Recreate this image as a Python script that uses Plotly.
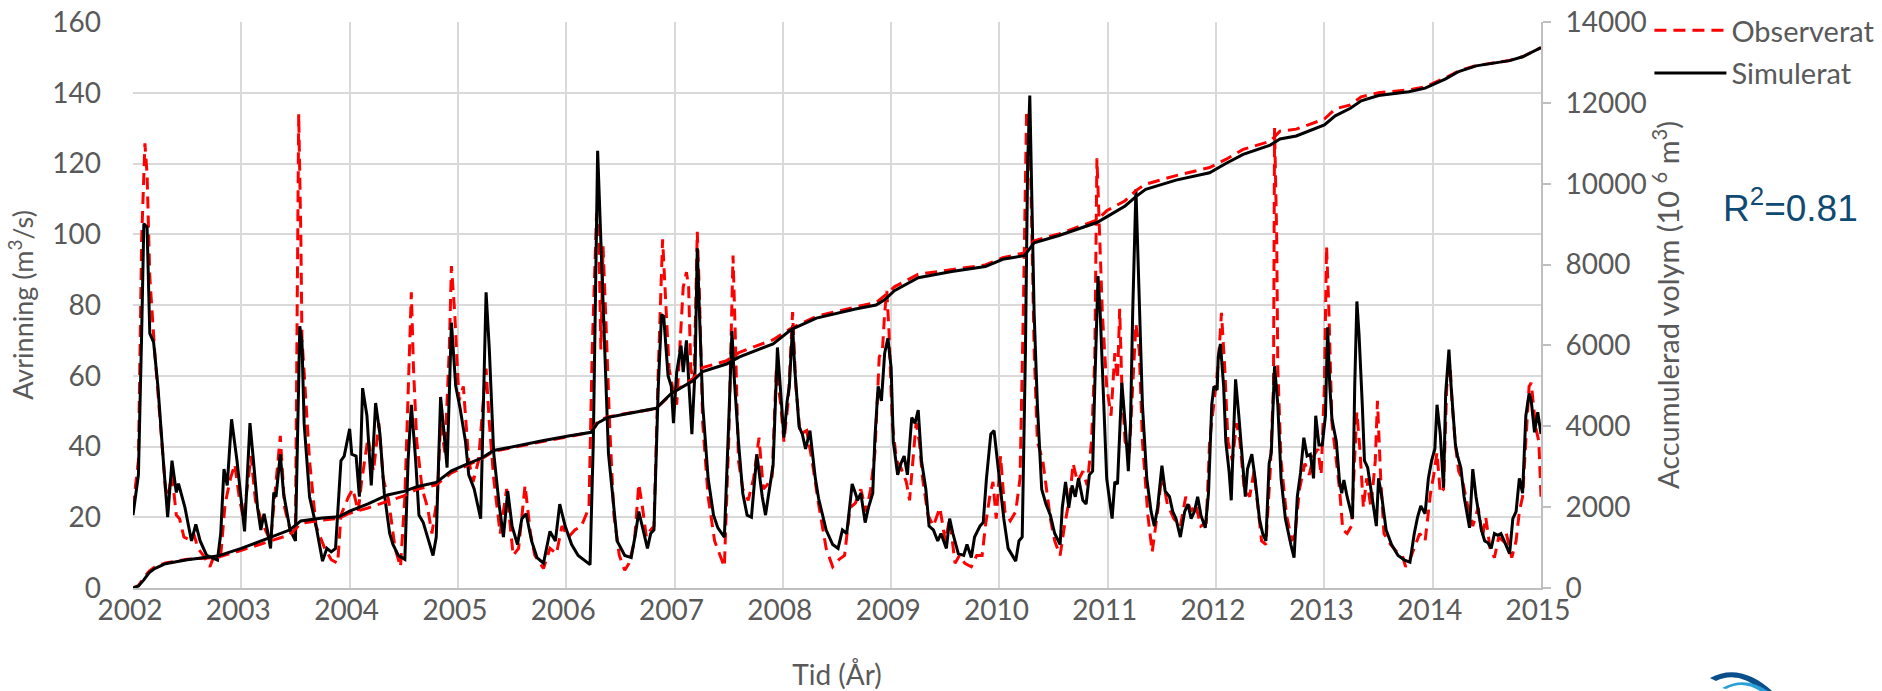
import plotly.graph_objects as go

# Simulated discharge (year, m3/s)
sim = [
    (2002.0, 20.6), (2002.05, 32), (2002.08, 72), (2002.10, 103), (2002.13, 102), (2002.155, 72),
    (2002.19, 69.5), (2002.23, 57), (2002.28, 36), (2002.32, 20), (2002.36, 36), (2002.40, 27),
    (2002.42, 29.5), (2002.48, 22.7), (2002.54, 13.3), (2002.58, 18), (2002.62, 13.3), (2002.68, 9.2),
    (2002.78, 7.9), (2002.81, 15.4), (2002.84, 33.6), (2002.87, 29), (2002.91, 47.7), (2002.96, 36),
    (2003.03, 16), (2003.08, 46.6), (2003.11, 36.7), (2003.15, 22.7), (2003.18, 16.4), (2003.21, 21),
    (2003.24, 16.4), (2003.27, 11.2), (2003.30, 27), (2003.32, 25.8), (2003.36, 37.8), (2003.39, 26.8),
    (2003.45, 16.4), (2003.50, 13.3), (2003.54, 74), (2003.56, 69.5), (2003.58, 46.6), (2003.63, 25.8),
    (2003.69, 17.5), (2003.75, 7.6), (2003.79, 11.2), (2003.83, 10.2), (2003.87, 11.2), (2003.92, 36),
    (2003.95, 37.3), (2004.0, 45), (2004.02, 37.8), (2004.06, 37.3), (2004.09, 25.8), (2004.12, 56.5),
    (2004.16, 48.7), (2004.20, 29), (2004.24, 52.3), (2004.28, 43.5), (2004.32, 26.8), (2004.37, 15.4),
    (2004.40, 12.3), (2004.45, 9.2), (2004.51, 8.1), (2004.54, 36), (2004.57, 51.8), (2004.61, 36),
    (2004.64, 20.6), (2004.68, 18.5), (2004.73, 13.3), (2004.77, 9.2), (2004.80, 14.4), (2004.84, 54),
    (2004.87, 44.5), (2004.90, 34), (2004.94, 75), (2004.98, 57), (2005.02, 50.8), (2005.07, 41.4),
    (2005.10, 32), (2005.15, 28), (2005.21, 19.6), (2005.26, 83.6), (2005.29, 67.4), (2005.33, 38.3),
    (2005.38, 23.7), (2005.42, 14.4), (2005.46, 27.4), (2005.50, 17.5), (2005.55, 12.3), (2005.59, 19.6),
    (2005.63, 21), (2005.68, 13.3), (2005.73, 8.6), (2005.79, 7), (2005.85, 16), (2005.90, 13.3),
    (2005.94, 23.7), (2005.99, 17.5), (2006.05, 12.3), (2006.11, 9.2), (2006.22, 6.6), (2006.25, 41.4),
    (2006.29, 123.6), (2006.32, 96.6), (2006.36, 65.3), (2006.39, 38), (2006.43, 25.8), (2006.47, 13.3),
    (2006.54, 9.2), (2006.60, 8.6), (2006.64, 15.4), (2006.67, 21.6), (2006.71, 16.4), (2006.75, 11.2),
    (2006.78, 15.4), (2006.81, 16.4), (2006.85, 57), (2006.88, 77.3), (2006.90, 76.8), (2006.94, 60),
    (2006.97, 57), (2006.99, 46.6), (2007.02, 61), (2007.06, 68.5), (2007.08, 61), (2007.11, 70),
    (2007.13, 59), (2007.16, 43.5), (2007.19, 62), (2007.21, 96), (2007.23, 77.8), (2007.26, 51.8),
    (2007.31, 31), (2007.36, 20.6), (2007.40, 17), (2007.46, 14.4), (2007.50, 46.6), (2007.53, 72.6),
    (2007.55, 60), (2007.59, 41.4), (2007.63, 26.8), (2007.67, 20.6), (2007.71, 20), (2007.76, 37.8),
    (2007.81, 25.8), (2007.84, 20.6), (2007.87, 26.8), (2007.91, 34.6), (2007.95, 68), (2007.98, 54),
    (2008.01, 42.5), (2008.04, 52.9), (2008.06, 57), (2008.09, 74.2), (2008.11, 62), (2008.15, 45.6),
    (2008.18, 43.5), (2008.21, 39.3), (2008.25, 44.5), (2008.30, 31), (2008.33, 25.3), (2008.40, 16.4),
    (2008.46, 12.3), (2008.51, 11.2), (2008.55, 16.4), (2008.59, 15.4), (2008.64, 29.4), (2008.67, 26.8),
    (2008.69, 24.8), (2008.72, 26.8), (2008.76, 18.5), (2008.79, 22.7), (2008.83, 26.8), (2008.85, 42.5),
    (2008.88, 57), (2008.91, 52.9), (2008.94, 66.4), (2008.97, 70.6), (2009.0, 62.2), (2009.02, 41.4),
    (2009.06, 32), (2009.09, 35.2), (2009.12, 37.3), (2009.15, 32), (2009.19, 48.2), (2009.22, 46.6),
    (2009.25, 50.3), (2009.28, 36), (2009.32, 28), (2009.35, 17.5), (2009.39, 16.4), (2009.43, 13.3),
    (2009.46, 15.4), (2009.51, 11.2), (2009.54, 19.6), (2009.57, 15.4), (2009.62, 9.7), (2009.67, 9.2),
    (2009.70, 12.3), (2009.74, 8.6), (2009.77, 14.4), (2009.82, 17.5), (2009.85, 18.5), (2009.88, 31),
    (2009.92, 43.5), (2009.95, 44.5), (2009.99, 34), (2010.04, 19.6), (2010.08, 11.2), (2010.15, 7.6),
    (2010.18, 13.3), (2010.21, 14.4), (2010.24, 67.4), (2010.26, 119.5), (2010.28, 139.2), (2010.30, 109),
    (2010.32, 77.8), (2010.35, 51.8), (2010.39, 27.9), (2010.43, 23.7), (2010.47, 20.6), (2010.51, 15.4),
    (2010.56, 12.3), (2010.58, 22.7), (2010.61, 30), (2010.64, 22.7), (2010.67, 29), (2010.70, 25.8),
    (2010.73, 31), (2010.77, 24.8), (2010.80, 23.7), (2010.83, 32), (2010.86, 33), (2010.88, 57),
    (2010.91, 88.2), (2010.93, 77.8), (2010.96, 51.8), (2010.99, 31), (2011.04, 19.6), (2011.065, 30),
    (2011.09, 29.4), (2011.13, 58), (2011.16, 46.6), (2011.19, 33), (2011.21, 46.6), (2011.23, 77.8),
    (2011.26, 112.7), (2011.29, 80), (2011.32, 51.8), (2011.36, 31), (2011.40, 21.6), (2011.43, 17.5),
    (2011.46, 22.7), (2011.50, 34.6), (2011.53, 27.4), (2011.57, 25.8), (2011.60, 21.6), (2011.63, 19.6),
    (2011.67, 14.4), (2011.71, 21.6), (2011.74, 23.7), (2011.77, 19.6), (2011.80, 21.6), (2011.83, 25.8),
    (2011.86, 20.6), (2011.90, 17), (2011.93, 26.8), (2011.96, 51.8), (2011.98, 57), (2012.01, 56),
    (2012.02, 65.3), (2012.04, 69), (2012.07, 57), (2012.09, 41.4), (2012.12, 33), (2012.14, 24.8),
    (2012.18, 59), (2012.21, 48.7), (2012.24, 36), (2012.27, 25.8), (2012.29, 33.6), (2012.33, 37.8),
    (2012.36, 31), (2012.40, 19.6), (2012.43, 15.4), (2012.46, 13.3), (2012.49, 35.2), (2012.51, 38.3),
    (2012.54, 62.7), (2012.57, 51.8), (2012.60, 31), (2012.64, 19.6), (2012.69, 12.3), (2012.72, 8.6),
    (2012.75, 25.8), (2012.78, 32.6), (2012.81, 42.5), (2012.84, 37.3), (2012.87, 37.8), (2012.90, 31),
    (2012.92, 48.7), (2012.95, 40.4), (2012.98, 40.4), (2013.01, 48.7), (2013.03, 73.7), (2013.05, 57),
    (2013.07, 47.7), (2013.11, 41.4), (2013.14, 30), (2013.16, 26.8), (2013.18, 30.5), (2013.21, 25.8),
    (2013.26, 19.6), (2013.28, 57), (2013.30, 81), (2013.32, 71.6), (2013.35, 51.8), (2013.37, 36),
    (2013.40, 34), (2013.44, 25.8), (2013.48, 17.5), (2013.50, 31), (2013.53, 25.8), (2013.57, 16.4),
    (2013.62, 12.3), (2013.68, 9.2), (2013.74, 7.9), (2013.79, 7.3), (2013.83, 15.4), (2013.86, 20),
    (2013.89, 23.2), (2013.93, 21), (2013.96, 31), (2013.99, 36), (2014.02, 39.3), (2014.04, 51.8),
    (2014.07, 43.5), (2014.10, 28.4), (2014.12, 55), (2014.15, 67.4), (2014.17, 57), (2014.21, 40.4),
    (2014.23, 37.3), (2014.26, 34), (2014.29, 25.8), (2014.34, 17), (2014.37, 33.6), (2014.40, 25.8),
    (2014.45, 16.4), (2014.48, 13.3), (2014.51, 12.8), (2014.54, 11.2), (2014.57, 15.4), (2014.60, 14.9),
    (2014.63, 15.4), (2014.66, 13.3), (2014.71, 9.7), (2014.74, 19.6), (2014.77, 21.6), (2014.80, 31),
    (2014.83, 26.8), (2014.86, 48.7), (2014.89, 55), (2014.91, 52.9), (2014.94, 44), (2014.97, 49.7),
    (2015.0, 43.5),
]

# Observed discharge (year, m3/s)
obs = [
    (2002.0, 22.7), (2002.05, 36), (2002.08, 98.6), (2002.11, 125.7), (2002.13, 117), (2002.155, 88),
    (2002.2, 67), (2002.25, 46.6), (2002.30, 28), (2002.32, 25.8), (2002.36, 32), (2002.40, 20.6),
    (2002.43, 19.6), (2002.47, 14.4), (2002.51, 13.8), (2002.56, 15.4), (2002.60, 11.2), (2002.65, 9.2),
    (2002.71, 6), (2002.75, 9.2), (2002.81, 9.2), (2002.85, 23.7), (2002.90, 31), (2002.94, 35),
    (2002.98, 25.8), (2003.02, 19.6), (2003.09, 37.3), (2003.13, 24.8), (2003.19, 18.5), (2003.27, 13.3),
    (2003.32, 30), (2003.36, 43), (2003.40, 22.7), (2003.46, 15.4), (2003.50, 17.5), (2003.53, 134),
    (2003.55, 98.6), (2003.56, 70.5), (2003.58, 61), (2003.63, 36), (2003.69, 17.5), (2003.77, 11.2),
    (2003.83, 8), (2003.89, 7), (2003.92, 20.6), (2003.99, 25.8), (2004.03, 28), (2004.08, 21.6),
    (2004.11, 30), (2004.17, 42.5), (2004.22, 33), (2004.27, 46.6), (2004.31, 31), (2004.36, 24.8),
    (2004.42, 11.2), (2004.47, 6), (2004.51, 25.8), (2004.55, 67.4), (2004.57, 83.6), (2004.59, 62),
    (2004.62, 41.4), (2004.67, 28), (2004.72, 22.7), (2004.76, 15.4), (2004.81, 25.8), (2004.84, 46.6),
    (2004.88, 38.3), (2004.92, 67.4), (2004.94, 91), (2004.97, 78), (2005.01, 53), (2005.05, 57),
    (2005.10, 36), (2005.14, 30), (2005.19, 36), (2005.24, 55), (2005.26, 62), (2005.29, 46.6),
    (2005.33, 31), (2005.39, 15.4), (2005.45, 28), (2005.51, 9.2), (2005.56, 11.2), (2005.62, 29),
    (2005.67, 15.4), (2005.71, 9.2), (2005.79, 5.5), (2005.85, 11.2), (2005.91, 9.7), (2005.96, 17.5),
    (2006.02, 14.4), (2006.08, 16.4), (2006.14, 17.5), (2006.21, 22.7), (2006.24, 67.4), (2006.28, 106),
    (2006.30, 100.7), (2006.32, 67.4), (2006.34, 96.6), (2006.37, 72.6), (2006.40, 46.6), (2006.44, 20.6),
    (2006.49, 9.2), (2006.54, 5), (2006.58, 7), (2006.63, 13.3), (2006.67, 29.4), (2006.70, 23.7),
    (2006.74, 14.4), (2006.78, 16.4), (2006.81, 17.5), (2006.85, 62), (2006.89, 98.6), (2006.92, 80),
    (2006.95, 62), (2006.98, 57), (2007.02, 51.8), (2007.05, 68.5), (2007.08, 85), (2007.11, 89.3),
    (2007.13, 85), (2007.15, 62), (2007.18, 58), (2007.21, 100.7), (2007.23, 83), (2007.26, 46.6),
    (2007.31, 25.8), (2007.37, 13.3), (2007.42, 9.2), (2007.46, 6), (2007.50, 41.4), (2007.54, 94),
    (2007.56, 72.6), (2007.59, 36), (2007.63, 28), (2007.68, 24.8), (2007.73, 31), (2007.78, 42.5),
    (2007.82, 28), (2007.85, 29), (2007.90, 31), (2007.94, 62), (2007.98, 51.8), (2008.01, 41.4),
    (2008.05, 52.9), (2008.09, 78), (2008.12, 57), (2008.16, 43.5), (2008.22, 44.5), (2008.27, 36),
    (2008.33, 23.7), (2008.40, 11.2), (2008.46, 6), (2008.52, 8.1), (2008.57, 9.2), (2008.62, 22.7),
    (2008.67, 24), (2008.72, 27.9), (2008.77, 21.6), (2008.81, 27.9), (2008.85, 38.3), (2008.89, 65.3),
    (2008.92, 67.4), (2008.94, 77.8), (2008.96, 84), (2008.98, 72.6), (2009.01, 46.6), (2009.05, 36),
    (2009.09, 34), (2009.14, 30), (2009.17, 24.8), (2009.20, 36), (2009.23, 46.6), (2009.26, 41.4),
    (2009.29, 31), (2009.34, 20.6), (2009.39, 17.5), (2009.45, 22.7), (2009.50, 13.3), (2009.54, 19.6),
    (2009.59, 7), (2009.63, 9.2), (2009.68, 7), (2009.74, 6), (2009.79, 9.2), (2009.84, 9.2),
    (2009.87, 17.5), (2009.91, 25.8), (2009.94, 30), (2009.97, 19.6), (2010.01, 37.3), (2010.05, 21.6),
    (2010.10, 19), (2010.15, 21.6), (2010.19, 31), (2010.22, 77.8), (2010.25, 134), (2010.28, 130),
    (2010.30, 98.6), (2010.32, 67.4), (2010.35, 41.4), (2010.40, 36), (2010.43, 29), (2010.47, 19.6),
    (2010.51, 13.3), (2010.56, 9.2), (2010.60, 17.5), (2010.65, 25.8), (2010.68, 35.2), (2010.72, 30),
    (2010.77, 33), (2010.81, 29), (2010.85, 41.4), (2010.88, 65), (2010.90, 121.5), (2010.92, 104),
    (2010.95, 77.8), (2010.99, 57), (2011.03, 48.7), (2011.065, 66.4), (2011.09, 59), (2011.11, 78.9),
    (2011.13, 57), (2011.16, 41.4), (2011.20, 38.3), (2011.23, 57), (2011.26, 74.7), (2011.29, 67.4),
    (2011.32, 41.4), (2011.37, 20.6), (2011.41, 10.2), (2011.46, 21.6), (2011.50, 32), (2011.55, 23.7),
    (2011.61, 19.6), (2011.67, 17.5), (2011.72, 25.8), (2011.77, 21.6), (2011.81, 23.7), (2011.86, 17.5),
    (2011.91, 18.5), (2011.94, 41.4), (2011.98, 51.8), (2012.02, 63.3), (2012.05, 77.8), (2012.08, 62.2),
    (2012.11, 41.4), (2012.15, 36), (2012.19, 46.6), (2012.22, 41.4), (2012.26, 27.9), (2012.31, 25.8),
    (2012.35, 33), (2012.39, 20.6), (2012.42, 13.3), (2012.46, 12.3), (2012.50, 33), (2012.53, 57),
    (2012.54, 130), (2012.56, 98.6), (2012.57, 62.2), (2012.60, 36), (2012.65, 20.6), (2012.70, 13.3),
    (2012.73, 15.4), (2012.77, 27.9), (2012.82, 35.2), (2012.86, 32), (2012.90, 37.3), (2012.94, 39.3),
    (2012.97, 32), (2013.0, 57), (2013.02, 96.6), (2013.04, 80), (2013.05, 67.4), (2013.07, 46.6),
    (2013.11, 36), (2013.14, 27.9), (2013.17, 16.4), (2013.21, 15.4), (2013.25, 17.5), (2013.28, 36),
    (2013.30, 49.7), (2013.33, 38.3), (2013.36, 22.7), (2013.39, 31), (2013.43, 22.7), (2013.47, 36),
    (2013.49, 52.9), (2013.52, 31), (2013.55, 15.4), (2013.61, 12.3), (2013.67, 10.2), (2013.72, 9.2),
    (2013.75, 6), (2013.79, 8.1), (2013.83, 11.2), (2013.88, 15.4), (2013.93, 13.3), (2013.98, 26.8),
    (2014.01, 32), (2014.04, 38.3), (2014.07, 26.8), (2014.10, 27.9), (2014.13, 57), (2014.16, 63.3),
    (2014.18, 51.8), (2014.21, 40.4), (2014.24, 33), (2014.27, 31), (2014.32, 23.7), (2014.37, 17.5),
    (2014.42, 22.7), (2014.46, 14.4), (2014.49, 20), (2014.53, 11.2), (2014.57, 8.6), (2014.61, 14.4),
    (2014.65, 13.3), (2014.68, 15.4), (2014.73, 8.6), (2014.77, 13.3), (2014.80, 21.6), (2014.83, 25.8),
    (2014.87, 46.6), (2014.89, 57), (2014.91, 58), (2014.95, 45.6), (2014.98, 41.4), (2015.0, 25.8),
]

# Accumulated volume (10^6 m3), right axis
cum_year = [2002.0, 2002.05, 2002.1, 2002.15, 2002.2, 2002.3, 2002.5, 2002.78, 2003.0, 2003.25,
            2003.45, 2003.55, 2003.75, 2003.9, 2004.0, 2004.17, 2004.35, 2004.5, 2004.63, 2004.8,
            2004.94, 2005.1, 2005.22, 2005.33, 2005.56, 2005.78, 2006.02, 2006.23, 2006.29, 2006.38,
            2006.5, 2006.83, 2006.97, 2007.17, 2007.26, 2007.48, 2007.6, 2007.91, 2008.08, 2008.31,
            2008.67, 2008.86, 2008.94, 2009.03, 2009.25, 2009.56, 2009.87, 2010.03, 2010.23, 2010.32,
            2010.55, 2010.9, 2010.99, 2011.16, 2011.26, 2011.35, 2011.63, 2011.94, 2012.09, 2012.25,
            2012.5, 2012.59, 2012.74, 2013.0, 2013.1, 2013.24, 2013.34, 2013.5, 2013.78, 2013.93,
            2014.12, 2014.24, 2014.4, 2014.71, 2014.83, 2015.0]
sim_cum = [0, 50, 200, 380, 480, 600, 700, 790, 980, 1240,
           1440, 1660, 1730, 1760, 1900, 2080, 2300, 2390, 2510, 2610,
           2900, 3080, 3215, 3400, 3530, 3640, 3760, 3850, 4080, 4215,
           4280, 4445, 4810, 5125, 5355, 5540, 5715, 6040, 6400, 6675,
           6900, 7000, 7130, 7355, 7675, 7830, 7950, 8130, 8220, 8540,
           8720, 9040, 9180, 9450, 9680, 9860, 10090, 10270, 10500, 10725,
           10955, 11105, 11180, 11455, 11680, 11865, 12050, 12180, 12275, 12365,
           12595, 12775, 12915, 13045, 13140, 13365]
obs_cum = [0, 60, 250, 420, 520, 620, 710, 760, 930, 1150,
           1320, 1600, 1680, 1720, 1850, 1980, 2150, 2280, 2450, 2550,
           2850, 3050, 3200, 3380, 3510, 3620, 3740, 3860, 4120, 4230,
           4290, 4440, 4800, 5180, 5450, 5620, 5830, 6140, 6430, 6720,
           6950, 7060, 7230, 7450, 7760, 7880, 7990, 8170, 8290, 8590,
           8760, 9100, 9330, 9580, 9830, 9990, 10200, 10400, 10600, 10850,
           11050, 11300, 11350, 11600, 11850, 11950, 12150, 12250, 12320, 12400,
           12620, 12790, 12920, 13050, 13140, 13365]

years = list(range(2002, 2016))
FONT = "Lato, 'Open Sans', sans-serif"
GREY = "#595959"
RED = "#ff0000"
DASH = "12px,7px"

fig = go.Figure()
fig.add_trace(go.Scatter(x=[p[0] for p in obs], y=[p[1] for p in obs], name="Observerat",
                         mode="lines", line=dict(color=RED, width=3, dash=DASH),
                         legendgroup="a"))
fig.add_trace(go.Scatter(x=[p[0] for p in sim], y=[p[1] for p in sim], name="Simulerat",
                         mode="lines", line=dict(color="black", width=3),
                         legendgroup="b"))
fig.add_trace(go.Scatter(x=cum_year, y=obs_cum, yaxis="y2", mode="lines", showlegend=False,
                         line=dict(color=RED, width=3, dash=DASH)))
fig.add_trace(go.Scatter(x=cum_year, y=sim_cum, yaxis="y2", mode="lines", showlegend=False,
                         line=dict(color="black", width=3)))

# small partially visible logo swoosh at bottom right (decoration)
logo_shapes = [
    dict(type="path", xref="paper", yref="paper", line=dict(width=0), fillcolor="#0b4f8a",
         path="M 1.1200,-0.1590 Q 1.1413,-0.1307 1.1641,-0.1820 L 1.1570,-0.1820 "
              "Q 1.1399,-0.1449 1.1243,-0.1643 Z"),
    dict(type="path", xref="paper", yref="paper", line=dict(width=0), fillcolor="#2a9fd8",
         path="M 1.1286,-0.1767 Q 1.1449,-0.1537 1.1612,-0.1820 L 1.1555,-0.1820 "
              "Q 1.1435,-0.1625 1.1314,-0.1784 Z"),
]

fig.update_layout(
    width=1882, height=691,
    margin=dict(l=133, r=341, t=22, b=103, autoexpand=False),
    paper_bgcolor="white", plot_bgcolor="white",
    font=dict(family=FONT, color=GREY, size=28),
    xaxis=dict(range=[2002, 2015], tickvals=years, ticktext=[str(y) for y in years],
               showgrid=True, gridcolor="#d9d9d9", gridwidth=1.5, zeroline=False,
               showline=True, linecolor="#bfbfbf", linewidth=2, ticks="", ticklabelstandoff=-4,
               ticklabelshift=-3,
               tickfont=dict(size=28, color=GREY, family=FONT),
               title=dict(text="Tid (År)", font=dict(size=28, color=GREY, family=FONT), standoff=42)),
    yaxis=dict(range=[0, 160], dtick=20, showgrid=True, gridcolor="#d9d9d9", gridwidth=1.5,
               zeroline=False, showline=False, ticks="", ticklabelstandoff=31,
               tickfont=dict(size=28, color=GREY, family=FONT),
               title=dict(text="Avrinning (m<sup>3</sup>/s)", font=dict(size=27, color=GREY, family=FONT),
                          standoff=10)),
    yaxis2=dict(range=[0, 14000], dtick=2000, tickformat="d", overlaying="y", side="right",
                showgrid=False, zeroline=False, showline=True, linecolor="#bfbfbf", linewidth=2,
                ticks="outside", ticklen=8, tickwidth=2, tickcolor="#bfbfbf", ticklabelstandoff=9,
                tickfont=dict(size=28, color=GREY, family=FONT),
                title=dict(text="Accumulerad volym (10 <sup>6</sup> m<sup>3</sup>)",
                           font=dict(size=29, color=GREY, family=FONT), standoff=12)),
    legend=dict(x=1.077, y=1.03, xanchor="left", yanchor="top", bgcolor="rgba(0,0,0,0)",
                font=dict(size=29, color=GREY, family=FONT), traceorder="grouped",
                tracegroupgap=2, itemwidth=72),
    annotations=[dict(text="R<sup>2</sup>=0.81", xref="paper", yref="paper", x=1.128, y=0.675,
                      xanchor="left", yanchor="middle", showarrow=False,
                      font=dict(size=37, color="#0f4a73", family="'Liberation Sans', Arial, sans-serif"))],
    shapes=logo_shapes,
)

fig.write_html("out.html", config={"displayModeBar": False},
               post_script="document.body.style.margin='0px';")
